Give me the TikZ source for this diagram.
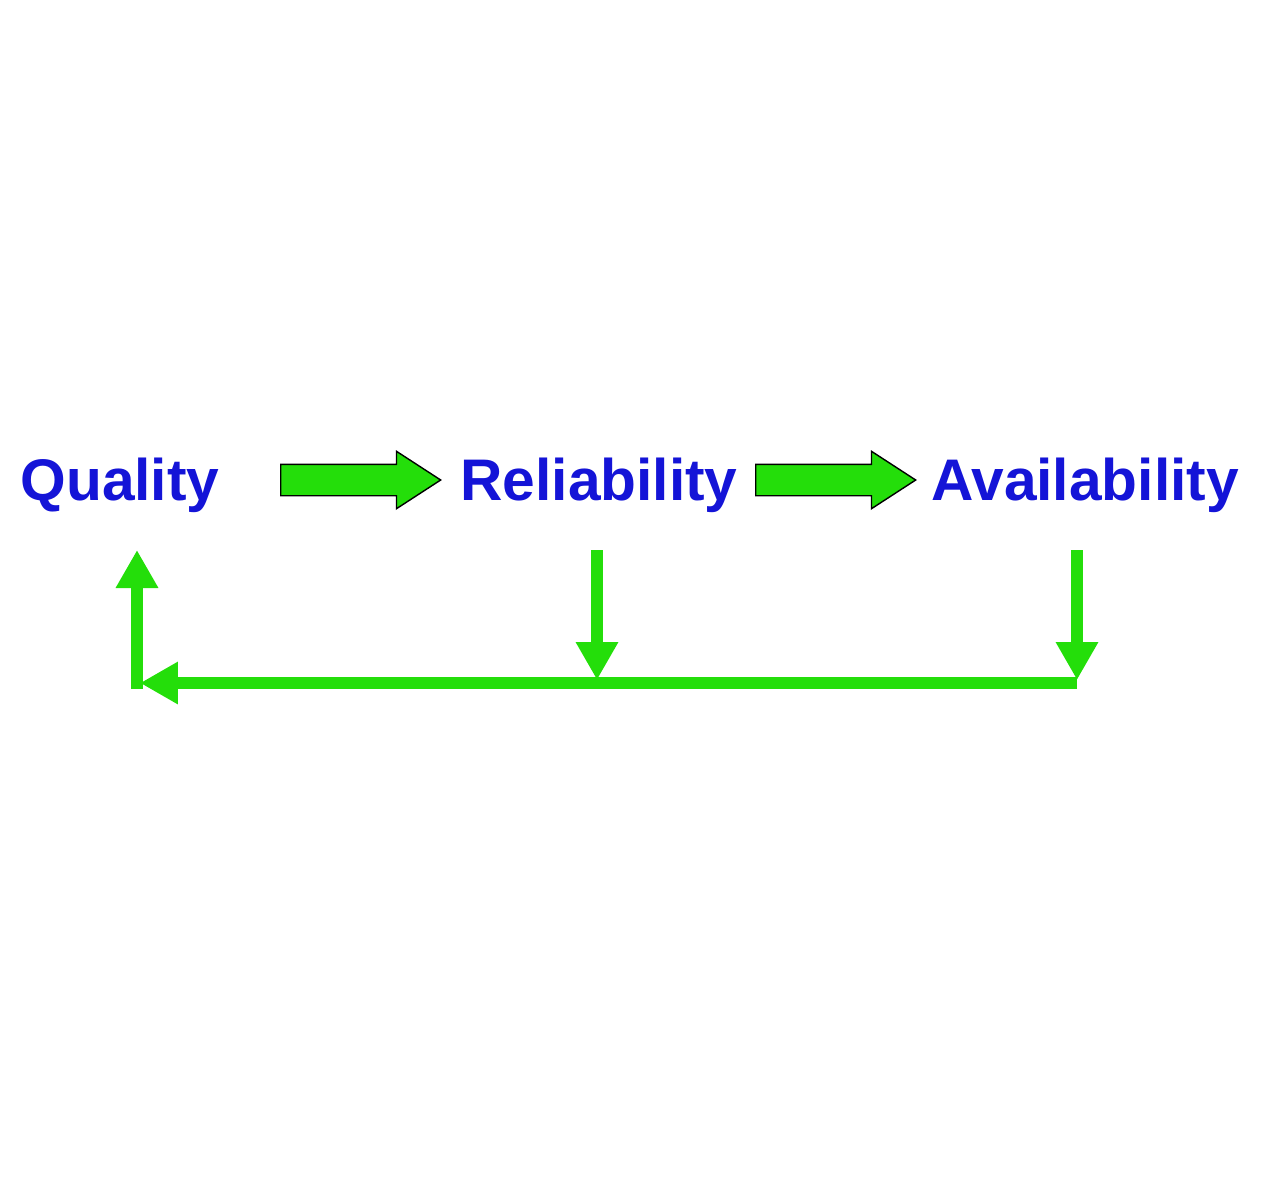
\documentclass[tikz,border=0pt]{standalone}
\usepackage{fontspec}
\setmainfont{Liberation Sans}
\definecolor{qblue}{RGB}{20,20,215}
\definecolor{qgreen}{RGB}{36,222,10}
\usepackage{tikz}
\usetikzlibrary{arrows.meta,positioning,shapes.arrows}

\begin{document}
\begin{tikzpicture}[x=0.02cm, y=-0.02cm,
  label/.style={font=\fontsize{33.4}{40}\selectfont\bfseries, text=qblue, anchor=base, inner sep=0pt},
  blockarrow/.style={single arrow, draw=black, line width=0.8pt, fill=qgreen, minimum height=3.2cm, single arrow head extend=0.26cm, single arrow tip angle=66, inner xsep=0pt, inner ysep=0.3cm, anchor=tail},
  feedback/.style={qgreen, line width=0.24cm, -{Triangle[length=0.76cm, width=0.8cm]}}]
\useasboundingbox (0,0) rectangle (1280,1190);
% Labels
\node[label] (quality) at (120,500) {Quality};
\node[label] (reliability) at (599,500) {Reliability};
\node[label] (availability) at (1085,500) {Availability};
% Block arrows
\node[blockarrow] (qr) at (280,480) {};
\node[blockarrow] (ra) at (755,480) {};
% Feedback loop
\coordinate (qup) at (137,550);
\coordinate (qcorner) at (137,689);
\coordinate (rdown) at (597,550);
\coordinate (rjoin) at (597,680);
\coordinate (adown) at (1077,550);
\coordinate (ajoin) at (1077,680);
\coordinate (aend) at (1077,683);
\coordinate (qjoin) at (140,683);
\draw[feedback] (rdown) -- (rjoin);
\draw[feedback] (adown) -- (ajoin);
\draw[feedback] (aend) -- (qjoin);
\draw[feedback] (qcorner) -- (qup);
\end{tikzpicture}
\end{document}
